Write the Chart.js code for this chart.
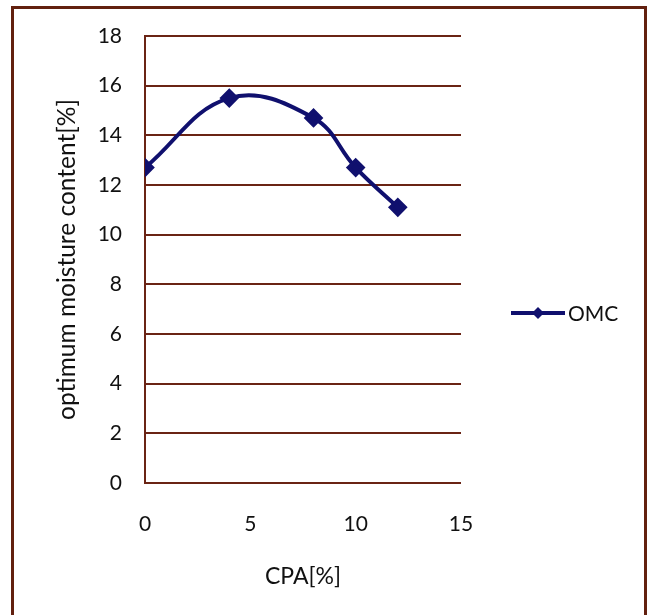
<!DOCTYPE html>
<html>
<head>
<meta charset="utf-8">
<script src="https://cdn.jsdelivr.net/npm/chart.js@4"></script>
<style>
  html, body { margin: 0; padding: 0; background: #fff; }
  #wrap { position: relative; width: 651px; height: 615px; overflow: hidden; }
  #frame { position: absolute; left: 11px; top: 6px; width: 636px; height: 700px; border: 3px solid #62200f; box-sizing: border-box; }
  canvas { position: absolute; left: 0; top: 0; }
</style>
</head>
<body>
<div id="wrap">
  <div id="frame"></div>
  <canvas id="chart" width="651" height="615"></canvas>
</div>
<script>
// CPA content (%) and the optimum moisture content measured at each level
const cpaPercent = [0, 4, 8, 10, 12];
const omcValues = [12.7, 15.5, 14.7, 12.7, 11.1];
const seriesName = 'OMC';
const xTickValues = [0, 5, 10, 15];
const yTickValues = [0, 2, 4, 6, 8, 10, 12, 14, 16, 18];

const FONT = 'Lato, "Open Sans", sans-serif';
const LINE_COLOR = '#10106e';
const GRID_COLOR = '#6a2414';

// Legend drawn to the right of the plot: a short line with a diamond marker
const sideLegend = {
  id: 'sideLegend',
  afterDraw(chart) {
    const ctx = chart.ctx;
    const ds = chart.data.datasets[0];
    const y = 313, x0 = 511, x1 = 565, xm = 538;
    ctx.save();
    ctx.strokeStyle = ds.borderColor;
    ctx.lineWidth = 4;
    ctx.beginPath();
    ctx.moveTo(x0, y);
    ctx.lineTo(x1, y);
    ctx.stroke();
    ctx.fillStyle = ds.borderColor;
    const r = 6;
    ctx.beginPath();
    ctx.moveTo(xm, y - r);
    ctx.lineTo(xm + r, y);
    ctx.lineTo(xm, y + r);
    ctx.lineTo(xm - r, y);
    ctx.closePath();
    ctx.fill();
    ctx.fillStyle = '#111';
    ctx.font = '21px ' + FONT;
    ctx.textAlign = 'left';
    ctx.textBaseline = 'middle';
    ctx.fillText(ds.label, 568, y + 1);
    ctx.restore();
  }
};

new Chart(document.getElementById('chart'), {
  type: 'line',
  data: {
    datasets: [{
      label: seriesName,
      data: cpaPercent.map((x, i) => ({ x: x, y: omcValues[i] })),
      borderColor: LINE_COLOR,
      backgroundColor: LINE_COLOR,
      borderWidth: 4,
      tension: 0.4,
      pointStyle: 'rectRot',
      pointRadius: 7,
      pointHoverRadius: 7,
      fill: false
    }]
  },
  options: {
    responsive: false,
    animation: false,
    layout: { padding: { left: 0, right: 190, top: 36, bottom: 0 } },
    plugins: { legend: { display: false }, tooltip: { enabled: false } },
    scales: {
      x: {
        type: 'linear',
        min: 0, max: 15,
        afterBuildTicks(axis) { axis.ticks = xTickValues.map(v => ({ value: v })); },
        afterFit(axis) { axis.height = 132; },
        grid: { display: false, drawTicks: false },
        border: { display: false },
        ticks: { color: '#111', font: { family: FONT, size: 21 }, padding: 29, maxRotation: 0 },
        title: { display: true, text: 'CPA[%]', color: '#111', font: { family: FONT, size: 23 }, padding: { bottom: 25 } }
      },
      y: {
        min: 0, max: 18,
        afterBuildTicks(axis) { axis.ticks = yTickValues.map(v => ({ value: v })); },
        afterFit(axis) { axis.width = 145; },
        grid: { color: GRID_COLOR, lineWidth: 2, drawTicks: false },
        border: { display: true, color: GRID_COLOR, width: 2 },
        ticks: { color: '#111', font: { family: FONT, size: 21 }, padding: 23 },
        title: { display: true, text: 'optimum moisture content[%]', color: '#111', font: { family: FONT, size: 24.5 }, padding: { top: 52 } }
      }
    }
  },
  plugins: [sideLegend]
});
</script>
</body>
</html>
